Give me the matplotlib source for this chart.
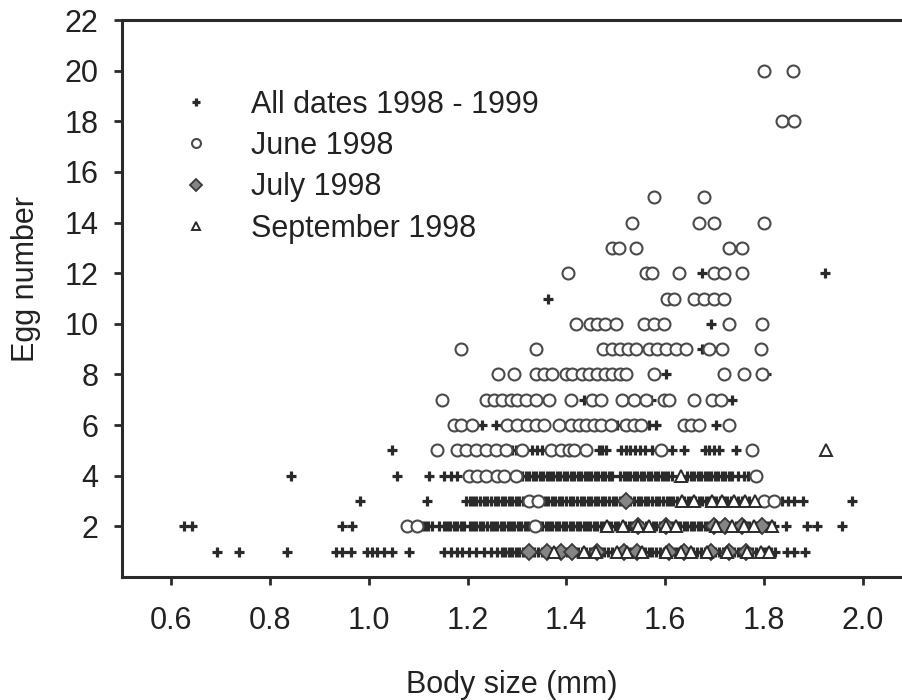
import matplotlib
matplotlib.use('Agg')
import matplotlib.pyplot as plt

plt.rcParams['font.family'] = ['Liberation Sans', 'DejaVu Sans']

# body size in micrometres, keyed by egg number
all_dates = {
    1: [693, 737, 834, 934, 946, 964, 997, 1007, 1017, 1031, 1047, 1081,
        1152, 1167, 1179, 1189, 1203, 1217, 1233, 1248, 1260, 1270,
        1276, 1283, 1290, 1298, 1305, 1312, 1320, 1327, 1334, 1342, 1350, 1357,
        1364, 1372, 1380, 1387, 1394, 1402, 1410, 1417, 1424, 1432, 1440, 1447,
        1454, 1462, 1470, 1477, 1484, 1492, 1500, 1507, 1514, 1522, 1530, 1537,
        1544, 1552, 1560, 1567, 1574, 1582, 1590, 1597, 1604, 1612, 1620, 1627,
        1634, 1642, 1650, 1657, 1664, 1672, 1680, 1687, 1694, 1702, 1710, 1717,
        1724, 1732, 1740, 1747, 1754, 1762, 1770, 1777, 1784, 1792, 1800, 1807,
        1814, 1822, 1848, 1862, 1883],
    2: [626, 642, 946, 966, 1108, 1114, 1120, 1127, 1142,
        1152, 1158, 1165, 1172, 1179, 1186, 1193,
        1204, 1211, 1218, 1225, 1232, 1240, 1247,
        1253, 1260, 1267, 1274, 1281, 1288, 1295, 1302, 1309, 1316, 1323, 1330,
        1337, 1344, 1351, 1358, 1365, 1372, 1379, 1386, 1393, 1400, 1407, 1414,
        1421, 1428, 1435, 1442, 1449, 1456, 1463, 1470, 1477, 1484, 1491, 1498,
        1505, 1512, 1519, 1526, 1533, 1540, 1547, 1554, 1561, 1568, 1575, 1582,
        1589, 1596, 1603, 1610, 1617, 1624, 1631, 1638, 1645, 1652, 1659, 1666,
        1673, 1680, 1687, 1694, 1701, 1708, 1715, 1722, 1729, 1736, 1743, 1750,
        1757, 1764, 1771, 1778, 1785, 1792, 1799, 1806, 1813, 1820,
        1845, 1888, 1908, 1959],
    3: [982, 1118,
        1197, 1204, 1211, 1218, 1226, 1233, 1240, 1247, 1255, 1262, 1269, 1276,
        1284, 1291, 1298, 1305, 1313, 1320, 1327, 1334, 1342, 1349, 1356, 1363,
        1371, 1378, 1385, 1392, 1400, 1407, 1414, 1421, 1429, 1436, 1443, 1450,
        1458, 1465, 1472, 1479, 1487, 1494, 1501, 1508, 1516, 1523, 1530, 1537,
        1545, 1552, 1559, 1566, 1574, 1581, 1588, 1595, 1603, 1610, 1617, 1624,
        1632, 1639, 1646, 1653, 1661, 1668, 1675, 1682, 1690, 1697, 1704, 1711,
        1719, 1726, 1733, 1740, 1748, 1755, 1762, 1770,
        1837, 1850, 1862, 1880, 1979],
    4: [842, 1057, 1122, 1152, 1167, 1179,
        1304, 1311, 1318, 1325, 1332, 1339, 1346, 1353, 1360, 1367, 1374, 1381,
        1388, 1395, 1402, 1409, 1416, 1423, 1430, 1437, 1444, 1451, 1458, 1465,
        1472, 1479, 1486, 1493,
        1509, 1516, 1523, 1530, 1537, 1544, 1551, 1558, 1565, 1572, 1579, 1586,
        1593, 1600, 1607, 1614,
        1645, 1652, 1659, 1666, 1673, 1680, 1687, 1694, 1701, 1708, 1715, 1722,
        1729, 1736, 1748, 1760, 1768],
    5: [1047, 1284, 1291, 1298, 1330, 1340, 1351, 1466, 1473, 1480, 1511, 1520,
        1530, 1540, 1550, 1560, 1574, 1614, 1639, 1680, 1690, 1700, 1710, 1744],
    6: [1229, 1258, 1503, 1513, 1568, 1582, 1703],
    7: [1436, 1572, 1736],
    8: [1602, 1805],
    9: [1675],
    10: [1693],
    11: [1363],
    12: [1675, 1925],
}

june = {
    2: [1077, 1098, 1337],
    3: [1325, 1343, 1801, 1821],
    4: [1203, 1219, 1237, 1260, 1274, 1298, 1785],
    5: [1138, 1179, 1197, 1217, 1237, 1258, 1278, 1310, 1369, 1389, 1405, 1416,
        1440, 1592, 1777],
    6: [1173, 1187, 1209, 1280, 1300, 1320, 1339, 1355, 1385, 1410, 1426, 1440,
        1456, 1470, 1490, 1521, 1537, 1551, 1639, 1653, 1669, 1730],
    7: [1148, 1237, 1254, 1270, 1288, 1300, 1318, 1339, 1365, 1410, 1452, 1470,
        1513, 1537, 1562, 1598, 1608, 1659, 1695, 1714],
    8: [1262, 1294, 1339, 1355, 1371, 1400, 1412, 1432, 1446, 1462, 1478, 1493,
        1508, 1520, 1578, 1720, 1760, 1797],
    9: [1187, 1339, 1475, 1492, 1508, 1525, 1541, 1568, 1584, 1602, 1622, 1643,
        1689, 1716, 1795],
    10: [1420, 1448, 1462, 1478, 1500, 1558, 1578, 1598, 1730, 1797],
    11: [1604, 1618, 1659, 1679, 1699, 1720],
    12: [1403, 1562, 1574, 1628, 1699, 1720, 1756],
    13: [1493, 1507, 1541, 1730, 1756],
    14: [1533, 1669, 1699, 1801],
    15: [1578, 1679],
    18: [1837, 1861],
    20: [1801, 1859],
}

july = {
    1: [1325, 1361, 1389, 1412, 1462, 1517, 1543, 1608, 1639, 1693, 1730, 1764],
    2: [1545, 1602, 1700, 1722, 1756, 1797],
    3: [1521],
}

september = {
    1: [1375, 1436, 1460, 1503, 1523, 1553, 1602, 1632, 1653, 1685, 1726, 1766,
        1795, 1810],
    2: [1483, 1515, 1545, 1568, 1602, 1622, 1703, 1736, 1760, 1780, 1817],
    3: [1634, 1659, 1695, 1716, 1740, 1762, 1782],
    4: [1632],
    5: [1926],
}

x_ticks = [0.6, 0.8, 1.0, 1.2, 1.4, 1.6, 1.8, 2.0]
y_ticks = [2, 4, 6, 8, 10, 12, 14, 16, 18, 20, 22]


def flatten(series):
    xs, ys = [], []
    for eggs, sizes in series.items():
        for s in sizes:
            xs.append(s / 1000.0)
            ys.append(eggs)
    return xs, ys


ink = '#2a2a2a'
fig = plt.figure(figsize=(9.02, 7.0), dpi=100)
ax = fig.add_axes([122 / 902, 123 / 700, 780 / 902, 557 / 700])

x, y = flatten(all_dates)
ax.plot(x, y, ls='none', marker='+', ms=7.4, mew=2.3, color=ink,
        label='All dates 1998 - 1999', zorder=3)
x, y = flatten(june)
ax.plot(x, y, ls='none', marker='o', ms=8.6, mew=1.5, mfc='white', mec='#4a4a4a',
        label='June 1998', zorder=4)
x, y = flatten(july)
ax.plot(x, y, ls='none', marker='D', ms=8.2, mew=1.3, mfc='#858585', mec='#3a3a3a',
        label='July 1998', zorder=5)
x, y = flatten(september)
ax.plot(x, y, ls='none', marker='^', ms=8.0, mew=1.4, mfc='white', mec=ink,
        label='September 1998', zorder=6)

ax.set_xlim(0.5, 2.08)
ax.set_ylim(0, 22)
ax.set_xticks(x_ticks)
ax.set_xticklabels(['%.1f' % t for t in x_ticks])
ax.set_yticks(y_ticks)

for side in ['left', 'bottom', 'top']:
    ax.spines[side].set_linewidth(2.2)
    ax.spines[side].set_color(ink)
ax.spines['right'].set_visible(False)

ax.tick_params(axis='both', direction='out', length=6, width=2, color=ink,
               labelsize=22, labelcolor='#222222')
ax.tick_params(axis='x', pad=15)
ax.tick_params(axis='y', pad=11)

ax.set_xlabel('Body size (mm)', fontsize=22, color='#222222')
ax.set_ylabel('Egg number', fontsize=22, color='#222222')
ax.xaxis.set_label_coords(0.5, -0.167)
ax.yaxis.set_label_coords(-0.104, 0.535)

ax.legend(loc='upper left', bbox_to_anchor=(0.075, 0.875), frameon=False,
          fontsize=22, labelcolor='#222222', markerscale=0.75, handlelength=1.0,
          handletextpad=1.3, labelspacing=0.37, borderpad=0, borderaxespad=0)

fig.savefig('out.png', dpi=100)
